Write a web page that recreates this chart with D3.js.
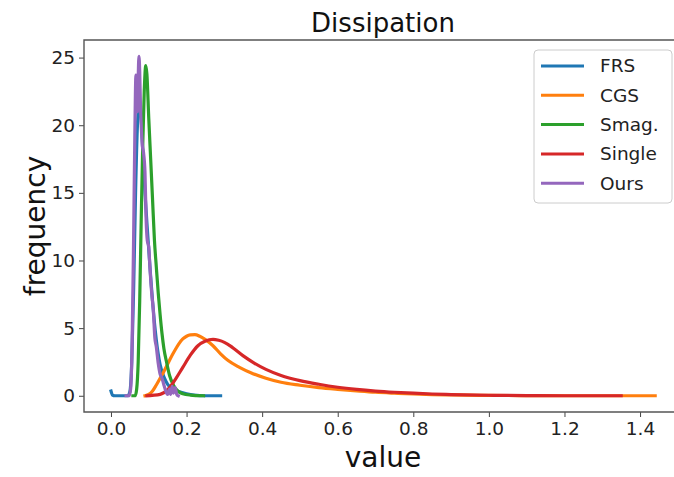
<!DOCTYPE html>
<html>
<head>
<meta charset="utf-8">
<script src="https://cdn.jsdelivr.net/npm/d3@7"></script>
<style>
  html, body { margin: 0; padding: 0; background: #fff; }
  svg { display: block; font-family: "DejaVu Sans", sans-serif; }
</style>
</head>
<body>
<svg id="chart" width="674" height="477"></svg>
<script>
// Series names and colours (matplotlib tab10 order)
const seriesNames = ["FRS", "CGS", "Smag.", "Single", "Ours"];
const seriesColors = ["#1f77b4", "#ff7f0e", "#2ca02c", "#d62728", "#9467bd"];

// Density estimates, [value, frequency] pairs
const frs = [
  [0.000, 0.35], [0.004, 0.05], [0.010, 0.0], [0.045, 0.0], [0.050, 0.3],
  [0.055, 2.5], [0.060, 8.0], [0.065, 15.0], [0.070, 20.0], [0.075, 21.5],
  [0.080, 20.5], [0.085, 17.5], [0.090, 15.0], [0.095, 12.8], [0.100, 10.8],
  [0.105, 8.8], [0.110, 7.0], [0.115, 5.4], [0.120, 4.1], [0.130, 2.3],
  [0.140, 1.4], [0.150, 0.85], [0.160, 0.55], [0.175, 0.35], [0.200, 0.15],
  [0.220, 0.05], [0.250, 0.0], [0.290, 0.0]
];
const cgs = [
  [0.090, 0.0], [0.100, 0.1], [0.110, 0.35], [0.120, 0.8], [0.130, 1.3],
  [0.140, 1.8], [0.150, 2.35], [0.160, 2.9], [0.170, 3.4], [0.180, 3.85],
  [0.190, 4.2], [0.200, 4.4], [0.210, 4.5], [0.222, 4.52], [0.235, 4.4],
  [0.250, 4.15], [0.270, 3.7], [0.290, 3.1], [0.310, 2.6], [0.340, 2.1],
  [0.370, 1.7], [0.410, 1.3], [0.450, 1.0], [0.500, 0.78], [0.550, 0.6],
  [0.600, 0.47], [0.650, 0.36], [0.700, 0.26], [0.750, 0.19], [0.800, 0.13],
  [0.850, 0.09], [0.900, 0.06], [1.000, 0.03], [1.100, 0.01], [1.200, 0.0],
  [1.440, 0.0]
];
const smag = [
  [0.058, 0.0], [0.064, 0.0], [0.068, 0.5], [0.072, 2.5], [0.076, 7.0],
  [0.080, 13.0], [0.084, 18.5], [0.088, 22.5], [0.092, 24.4], [0.095, 23.8],
  [0.100, 20.5], [0.105, 17.5], [0.110, 14.5], [0.115, 11.5], [0.120, 9.5],
  [0.125, 7.6], [0.130, 6.0], [0.135, 4.6], [0.140, 3.5], [0.147, 2.5],
  [0.155, 1.5], [0.165, 0.8], [0.175, 0.4], [0.190, 0.15], [0.210, 0.05],
  [0.245, 0.0]
];
const single = [
  [0.095, 0.0], [0.130, 0.1], [0.150, 0.45], [0.170, 1.2], [0.190, 2.1],
  [0.210, 3.0], [0.230, 3.7], [0.250, 4.05], [0.270, 4.17], [0.285, 4.1],
  [0.300, 3.95], [0.320, 3.6], [0.350, 2.95], [0.380, 2.4], [0.410, 1.95],
  [0.450, 1.5], [0.500, 1.12], [0.550, 0.85], [0.600, 0.63], [0.650, 0.47],
  [0.700, 0.35], [0.750, 0.26], [0.800, 0.19], [0.850, 0.13], [0.900, 0.09],
  [1.000, 0.04], [1.100, 0.015], [1.200, 0.0], [1.350, 0.0]
];
const ours = [
  [0.040, 0.0], [0.048, 0.0], [0.052, 0.5], [0.056, 4.0], [0.060, 12.0],
  [0.063, 19.0], [0.066, 23.7], [0.068, 22.5], [0.070, 21.0], [0.072, 23.5],
  [0.074, 25.1], [0.076, 24.0], [0.078, 21.5], [0.080, 20.0], [0.083, 18.5],
  [0.086, 18.0], [0.090, 16.5], [0.093, 13.0], [0.096, 11.5], [0.100, 11.0],
  [0.103, 9.5], [0.106, 8.2], [0.108, 7.5], [0.112, 6.3], [0.116, 4.3],
  [0.120, 3.6], [0.125, 2.4], [0.130, 1.6], [0.135, 1.3], [0.140, 0.8],
  [0.145, 0.35], [0.150, 0.1], [0.155, 0.5], [0.158, 0.1], [0.162, 0.7],
  [0.165, 0.2], [0.170, 0.6], [0.174, 0.1], [0.178, 0.0]
];
const seriesData = [frs, cgs, smag, single, ours];

// Tick values
const xTicks = [0.0, 0.2, 0.4, 0.6, 0.8, 1.0, 1.2, 1.4];
const yTicks = [0, 5, 10, 15, 20, 25];

const svg = d3.select("#chart");
const plot = { left: 84, top: 40, right: 682, bottom: 412 };

const x = d3.scaleLinear().domain([-0.0714, 1.511]).range([plot.left, plot.right]);
const y = d3.scaleLinear().domain([-1.2, 26.3]).range([plot.bottom, plot.top]);

// Axes
const xAxis = svg.append("g")
  .attr("transform", `translate(0,${plot.bottom})`)
  .call(d3.axisBottom(x).tickValues(xTicks).tickFormat(d3.format(".1f")).tickSize(5).tickPadding(5));
const yAxis = svg.append("g")
  .attr("transform", `translate(${plot.left},0)`)
  .call(d3.axisLeft(y).tickValues(yTicks).tickFormat(d3.format("d")).tickSize(5).tickPadding(4));

[xAxis, yAxis].forEach(g => {
  g.select(".domain").remove();
  g.selectAll(".tick line").attr("stroke", "#444").attr("stroke-width", 1);
  g.selectAll(".tick text")
    .attr("fill", "#222")
    .style("font-family", "DejaVu Sans, sans-serif")
    .style("font-size", "18.5px");
});

// Frame (left, top, bottom spines; right one lies past the edge)
svg.append("path")
  .attr("d", `M${plot.right},${plot.top}H${plot.left}V${plot.bottom}H${plot.right}`)
  .attr("fill", "none")
  .attr("stroke", "#555")
  .attr("stroke-width", 1.4);

// Curves
const line = d3.line()
  .x(d => x(d[0]))
  .y(d => y(d[1]))
  .curve(d3.curveMonotoneX);

svg.append("g").selectAll("path")
  .data(seriesData)
  .join("path")
  .attr("d", line)
  .attr("fill", "none")
  .attr("stroke", (d, i) => seriesColors[i])
  .attr("stroke-width", 3.2)
  .attr("stroke-linejoin", "round")
  .attr("stroke-linecap", "square");

// Title and axis labels
svg.append("text")
  .attr("x", (plot.left + plot.right) / 2)
  .attr("y", 32)
  .attr("text-anchor", "middle")
  .attr("fill", "#111")
  .style("font-size", "26px")
  .text("Dissipation");

svg.append("text")
  .attr("x", (plot.left + plot.right) / 2)
  .attr("y", 467)
  .attr("text-anchor", "middle")
  .attr("fill", "#111")
  .style("font-size", "28px")
  .text("value");

svg.append("text")
  .attr("transform", `translate(45,${(plot.top + plot.bottom) / 2}) rotate(-90)`)
  .attr("text-anchor", "middle")
  .attr("fill", "#111")
  .style("font-size", "28px")
  .text("frequency");

// Legend
const legend = svg.append("g");
legend.append("rect")
  .attr("x", 534).attr("y", 50)
  .attr("width", 138).attr("height", 153)
  .attr("rx", 4)
  .attr("fill", "#fff")
  .attr("fill-opacity", 0.8)
  .attr("stroke", "#ccc")
  .attr("stroke-width", 1);

const items = legend.selectAll("g.item")
  .data(seriesNames)
  .join("g")
  .attr("class", "item")
  .attr("transform", (d, i) => `translate(0,${66 + i * 29.3})`);
items.append("line")
  .attr("x1", 541).attr("x2", 584)
  .attr("stroke", (d, i) => seriesColors[i])
  .attr("stroke-width", 3);
items.append("text")
  .attr("x", 600)
  .attr("dy", "0.35em")
  .attr("fill", "#222")
  .style("font-size", "18.5px")
  .text(d => d);
</script>
</body>
</html>
